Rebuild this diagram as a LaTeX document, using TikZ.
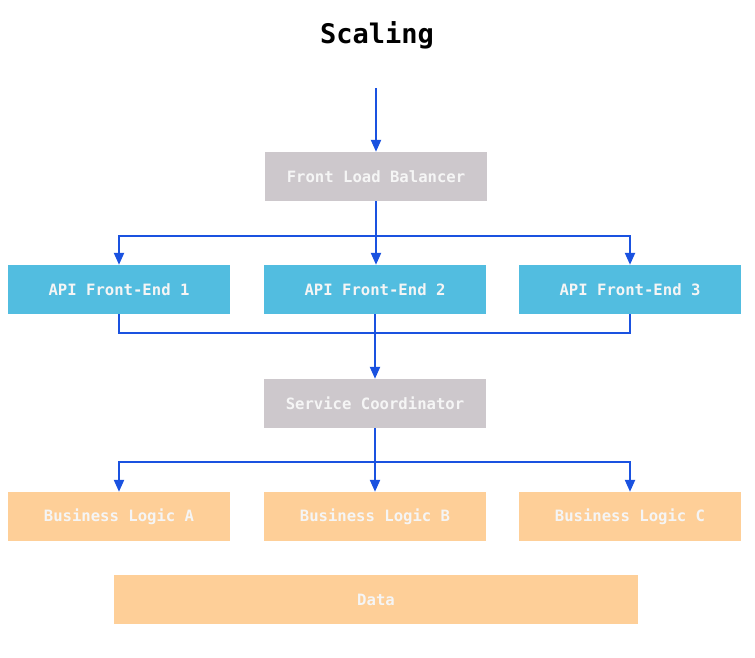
\documentclass[tikz,border=0pt]{standalone}
\usepackage{fontspec}
\setmonofont{DejaVu Sans Mono}
\usetikzlibrary{arrows.meta}
\definecolor{gbox}{HTML}{CDC8CC}
\definecolor{bbox}{HTML}{52BDE0}
\definecolor{obox}{HTML}{FECF98}
\definecolor{lblue}{HTML}{1A52E0}
\definecolor{txt}{HTML}{F5F5F5}
\begin{document}
\begin{tikzpicture}[x=1pt,y=-1pt,
  box/.style={minimum width=222pt,minimum height=49pt,inner sep=0pt,text=txt,font=\ttfamily\bfseries\fontsize{15.6}{17}\selectfont},
  gray/.style={box,fill=gbox},
  blue/.style={box,fill=bbox},
  orange/.style={box,fill=obox},
  conn/.style={draw=lblue,line width=2.2pt},
  arr/.style={conn,-{Triangle[length=12pt,width=10pt]}}]
\useasboundingbox (0,0) rectangle (755,657);
\node[font=\ttfamily\bfseries\fontsize{27}{30}\selectfont] (title) at (377,35) {Scaling};
\coordinate (in) at (376,88);
\node[gray] (flb) at (376,176.5) {Front Load Balancer};
\node[blue] (api1) at (119,289.5) {API Front-End 1};
\node[blue] (api2) at (375,289.5) {API Front-End 2};
\node[blue] (api3) at (630,289.5) {API Front-End 3};
\node[gray] (sc) at (375,403.5) {Service Coordinator};
\node[orange] (bla) at (119,516.5) {Business Logic A};
\node[orange] (blb) at (375,516.5) {Business Logic B};
\node[orange] (blc) at (630,516.5) {Business Logic C};
\node[orange,minimum width=524pt] (data) at (376,599.5) {Data};
\draw[arr] (in) -- (flb.north);
\draw[arr] (flb.south) -- (flb.south |- api2.north);
\draw[arr] (flb.south) ++(0,35) -| (api1.north);
\draw[arr] (flb.south) ++(0,35) -| (api3.north);
\draw[conn] (api1.south) |- (375,333) -| (api3.south);
\draw[arr] (api2.south) -- (sc.north);
\draw[arr] (sc.south) -- (blb.north);
\draw[arr] (sc.south) ++(0,34) -| (bla.north);
\draw[arr] (sc.south) ++(0,34) -| (blc.north);
\end{tikzpicture}
\end{document}
